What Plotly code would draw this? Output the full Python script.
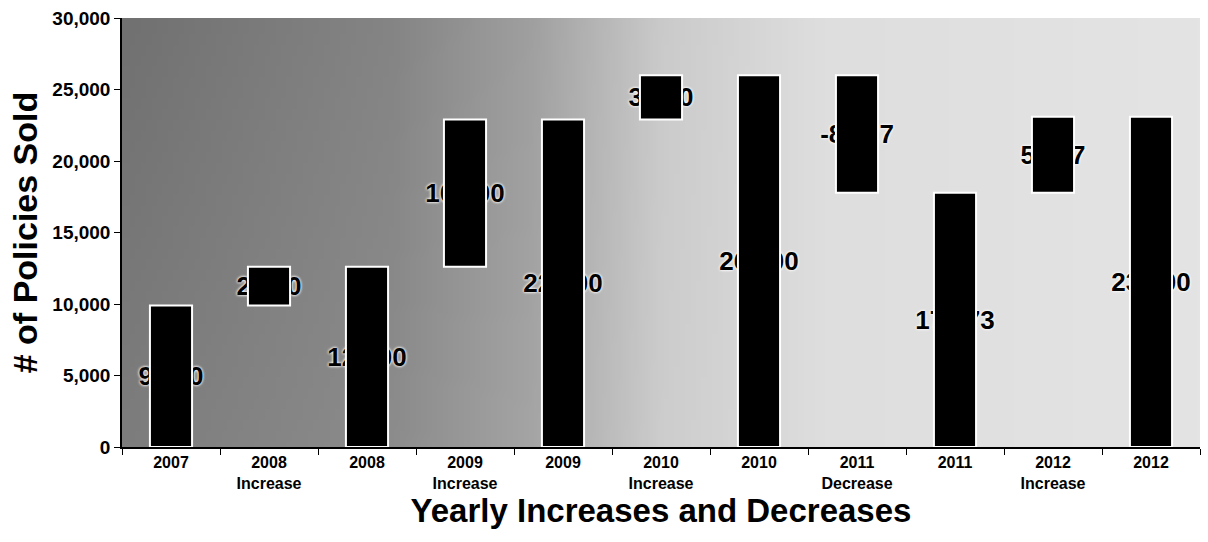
import zlib, struct, base64
import plotly.graph_objects as go

# ---- data ----
years = ["2007", "2008", "2009", "2010", "2011", "2012"]
year_totals = [9900, 12600, 22900, 26000, 17773, 23100]
changes = [2700, 10300, 3100, -8227, 5327]
change_kinds = ["Increase", "Increase", "Increase", "Decrease", "Increase"]

# ---- build waterfall pieces ----
cats, heights, bases, labels = [], [], [], []
for i, yr in enumerate(years):
    if i > 0:
        ch = changes[i - 1]
        prev = year_totals[i - 1]
        cats.append(f"{yr}<br>{change_kinds[i - 1]}")
        heights.append(abs(ch))
        bases.append(min(prev, prev + ch))
        labels.append(f"{ch:,}")
    cats.append(yr)
    heights.append(year_totals[i])
    bases.append(0)
    labels.append(f"{year_totals[i]:,}")

# ---- background gradient image (styling only) ----
def gradient_png(stops, w=200, h=40):
    rows = []
    for yy in range(h):
        row = bytearray([0])
        for xx in range(w):
            t = xx / (w - 1)
            for j in range(len(stops) - 1):
                if stops[j][0] <= t <= stops[j + 1][0]:
                    a, b = stops[j], stops[j + 1]
                    f = (t - a[0]) / (b[0] - a[0])
                    v = a[1] + (b[1] - a[1]) * f
                    break
            v = v - (1 - yy / (h - 1)) * 12 * max(0.0, 1 - t * 1.6)
            v = int(max(0, min(255, v)))
            row += bytes([v, v, v])
        rows.append(bytes(row))
    raw = b"".join(rows)
    def chunk(tag, data):
        c = struct.pack(">I", len(data)) + tag + data
        return c + struct.pack(">I", zlib.crc32(tag + data) & 0xffffffff)
    png = b"\x89PNG\r\n\x1a\n"
    png += chunk(b"IHDR", struct.pack(">IIBBBBB", w, h, 8, 2, 0, 0, 0))
    png += chunk(b"IDAT", zlib.compress(raw, 9))
    png += chunk(b"IEND", b"")
    return "data:image/png;base64," + base64.b64encode(png).decode()

bg = gradient_png([(0.0, 125), (0.25, 140), (0.38, 165), (0.5, 205), (0.65, 222), (1.0, 228)])

FONT = "Liberation Sans, Arial, sans-serif"

fig = go.Figure()
# labels layer (drawn first, so bars cover the middle of each label)
fig.add_trace(go.Bar(
    x=cats, y=heights, base=bases,
    marker=dict(color="rgba(0,0,0,0)", line=dict(width=0)),
    width=0.43,
    text=labels,
    textposition="inside",
    insidetextanchor="middle",
    constraintext="none",
    textangle=0,
    textfont=dict(family=FONT, size=26, color="black", weight="bold",
                  shadow="0px 0px 3px white, 0px 0px 3px white"),
    hoverinfo="skip",
))
# bars on top
fig.add_trace(go.Bar(
    x=cats, y=heights, base=bases,
    marker=dict(color="black", line=dict(color="white", width=2)),
    width=0.43,
    hoverinfo="skip",
))

fig.update_layout(
    width=1208, height=542,
    margin=dict(l=122, r=8, t=18, b=95),
    paper_bgcolor="white",
    plot_bgcolor="rgba(0,0,0,0)",
    showlegend=False,
    barmode="overlay",
    images=[dict(source=bg, xref="paper", yref="paper", x=0, y=1,
                 sizex=1, sizey=1, sizing="stretch", layer="below",
                 xanchor="left", yanchor="top")],
    xaxis=dict(
        type="category",
        showline=True, linecolor="black", linewidth=1.5,
        ticks="outside", tickson="boundaries", ticklen=6, tickcolor="black",
        tickfont=dict(family=FONT, size=16, color="black", weight="bold"),
        title=dict(text="Yearly Increases and Decreases", standoff=4,
                   font=dict(family=FONT, size=33, color="black", weight="bold")),
        showgrid=False,
    ),
    yaxis=dict(
        range=[0, 30000], dtick=5000, tickformat=",",
        showline=True, linecolor="black", linewidth=1.5,
        ticks="outside", ticklen=6, tickcolor="black",
        tickfont=dict(family=FONT, size=19, color="black", weight="bold"),
        title=dict(text="# of Policies Sold", standoff=4,
                   font=dict(family=FONT, size=34, color="black", weight="bold")),
        showgrid=False, zeroline=False,
    ),
)

fig.write_html("out.html")
